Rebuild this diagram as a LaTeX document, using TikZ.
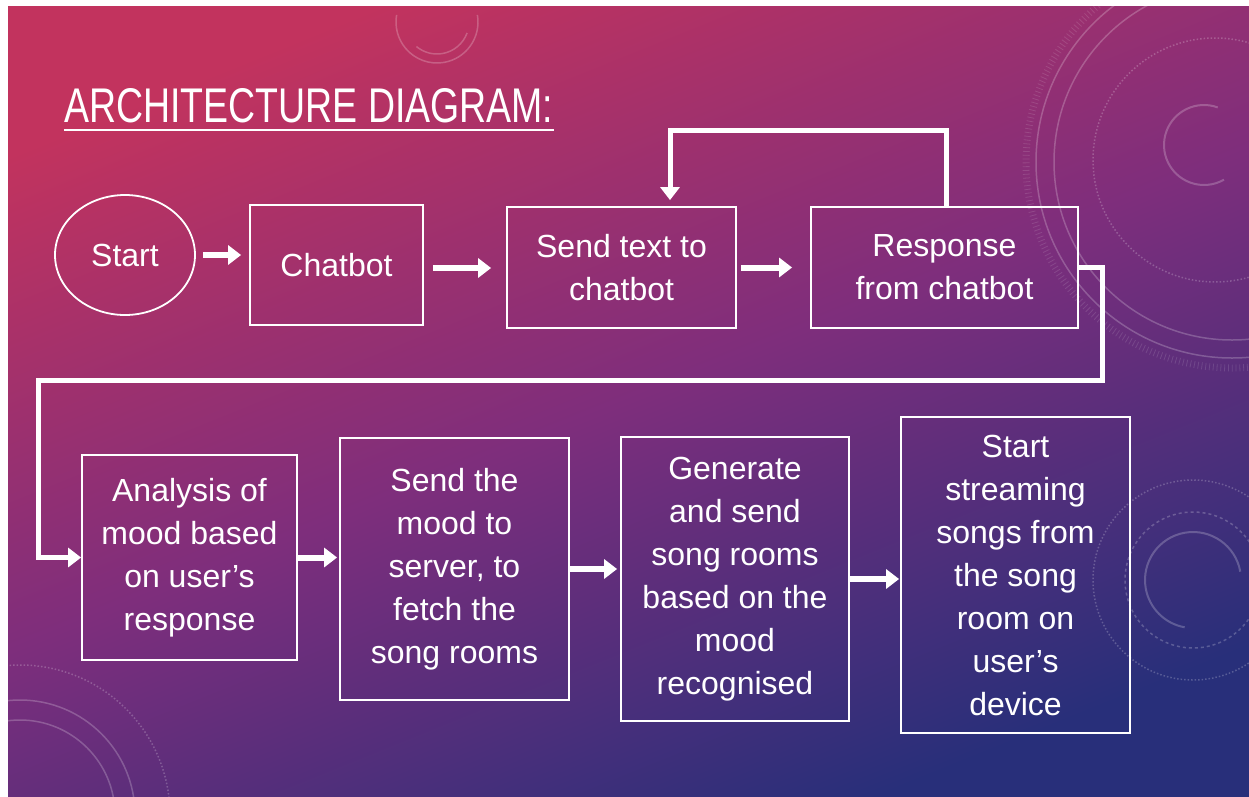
\documentclass[tikz,border=0pt]{standalone}
\usepackage{fontspec}
\setmainfont{Liberation Sans}
\usepackage{graphicx}
\usetikzlibrary{arrows.meta, calc, shapes.geometric}

\definecolor{bgpink}{HTML}{C2335E}
\definecolor{bgpurple}{HTML}{7E2E7C}
\definecolor{bgblue}{HTML}{282F7A}
\pgfdeclarehorizontalshading{slidebg}{100bp}{color(0bp)=(bgpink); color(25bp)=(bgpink); color(50bp)=(bgpurple); color(75bp)=(bgblue); color(100bp)=(bgblue)}

\begin{document}
\begin{tikzpicture}[x=1pt, y=-1pt,
    box/.style={draw=white, line width=1.8pt, text=white, align=center, inner sep=0pt, font=\fontsize{32}{43}\selectfont},
    flow/.style={white, line width=6pt, -{Triangle[length=13pt, width=19pt]}},
    loopline/.style={white, line width=5pt, line join=miter, -{Triangle[length=13pt, width=19pt]}},
    deco/.style={white, opacity=0.22, line width=1.5pt}]
    % Slide background
    \fill[white] (0,0) rectangle (1249,796);
    \shade[shading=slidebg, shading angle=-68] (8,6) rectangle (1249,796);
    \useasboundingbox (0,0) rectangle (1249,796);
    
    % Faint rings behind the diagram
    \begin{scope}
        \clip (8,6) rectangle (1249,796);
        \draw[deco] (437,22) ++(-10:41) arc[start angle=-10, end angle=190, radius=41];
        \draw[deco] (437,22) ++(20:32) arc[start angle=20, end angle=130, radius=32];
        \draw[deco] (1232,162) circle (196);
        \draw[deco] (1232,162) circle (178);
        \draw[deco, line width=7pt, dash pattern=on 0.8pt off 3pt, opacity=0.12] (1232,162) circle (206);
        \draw[deco, dotted] (1215,160) circle (122);
        \draw[deco, line width=2pt] (1204,145) ++(-70:40) arc[start angle=-70, end angle=-300, radius=40];
        \draw[deco, line width=2pt] (1193,580) ++(-10:48) arc[start angle=-10, end angle=-260, radius=48];
        \draw[deco, dashed] (1193,580) circle (68);
        \draw[deco, dotted] (1193,580) circle (100);
        \draw[deco] (20,815) circle (115);
        \draw[deco] (20,815) circle (95);
        \draw[deco, dotted] (20,815) circle (150);
    \end{scope}
    
    % Title
    \node[anchor=base west, text=white, inner sep=0pt] (title) at (64,122) {\resizebox{489pt}{34pt}{ARCHITECTURE DIAGRAM:}};
    \draw[white, line width=2.2pt] ($(title.base west)+(0,8)$) -- ($(title.base east)+(0,8)$);
    
    % Top row
    \node[box, ellipse, minimum width=140pt, minimum height=120pt] (start) at (125,255) {Start};
    \node[box, minimum width=173pt, minimum height=120pt] (chatbot) at (336.5,265) {Chatbot};
    \node[box, minimum width=229pt, minimum height=121pt] (sendtext) at (621.5,267.5) {Send text to\\chatbot};
    \node[box, minimum width=267pt, minimum height=121pt] (response) at (944.5,267.5) {Response\\from chatbot};
    
    % Bottom row
    \node[box, minimum width=215pt, minimum height=205pt] (analysis) at (189.5,557.5) {Analysis of\\mood based\\on user’s\\response};
    \node[box, minimum width=229pt, minimum height=262pt] (sendmood) at (454.5,569) {Send the\\mood to\\server, to\\fetch the\\song rooms};
    \node[box, minimum width=228pt, minimum height=284pt] (generate) at (735,579) {Generate\\and send\\song rooms\\based on the\\mood\\recognised};
    \node[box, minimum width=229pt, minimum height=316pt] (streaming) at (1015.5,575) {Start\\streaming\\songs from\\the song\\room on\\user’s\\device};
    
    % Arrows along the top row
    \draw[flow, shorten <=7pt, shorten >=8pt] (start.east) -- (start.east -| chatbot.west);
    \draw[flow, shorten <=9pt, shorten >=15pt] ([yshift=-3pt]chatbot.east) -- ([yshift=-3pt]chatbot.east -| sendtext.west);
    \draw[flow, shorten <=4pt, shorten >=18pt] (sendtext.east) -- (sendtext.east -| response.west);
    
    % Feedback loop back to the chatbot
    \coordinate (loopR) at (946,130);
    \coordinate (loopL) at (670,130);
    \draw[loopline, shorten >=6pt] (response.north -| loopR) -- (loopR) -- (loopL) -- (loopL |- sendtext.north);
    
    % Wrap down to the second row
    \coordinate (wrapR) at (1102,380);
    \coordinate (wrapL) at (38,380);
    \draw[loopline] (response.east) -| (wrapR) -- (wrapL) |- (analysis.west);
    
    % Arrows along the bottom row
    \draw[flow, shorten >=2pt] (analysis.east) -- (analysis.east -| sendmood.west);
    \draw[flow, shorten >=3pt] (sendmood.east) -- (sendmood.east -| generate.west);
    \draw[flow, shorten >=1pt] (generate.east) -- (generate.east -| streaming.west);
\end{tikzpicture}
\end{document}
